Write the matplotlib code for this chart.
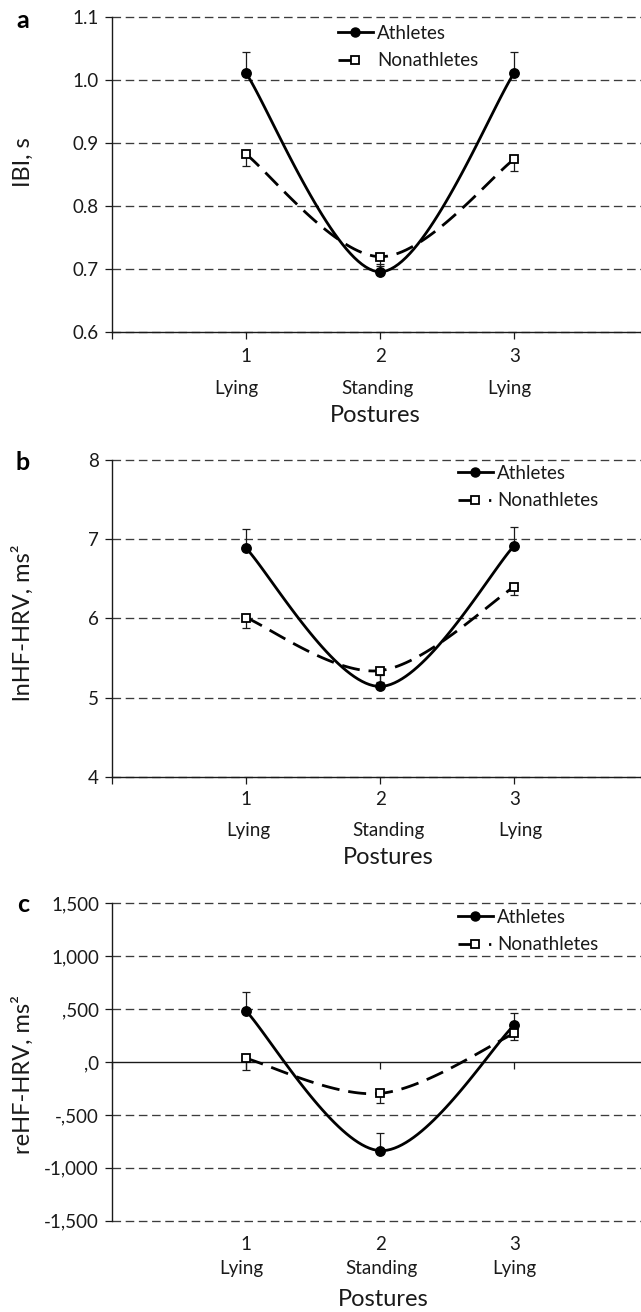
import numpy as np
import matplotlib
matplotlib.use("Agg")
import matplotlib.pyplot as plt
from matplotlib.lines import Line2D

plt.rcParams['font.family'] = ['Lato', 'DejaVu Sans']

# Dane
postures_x = [1, 2, 3]
posture_names = ['Lying', 'Standing', 'Lying']

ibi_ath = [1.012, 0.696, 1.012]
ibi_ath_err = [0.033, 0.012, 0.033]
ibi_non = [0.883, 0.720, 0.875]
ibi_non_err = [0.019, 0.015, 0.019]

lnhf_ath = [6.89, 5.14, 6.92]
lnhf_ath_err = [0.24, 0.15, 0.24]
lnhf_non = [6.01, 5.34, 6.40]
lnhf_non_err = [0.13, 0.14, 0.11]

rehf_ath = [485, -838, 350]
rehf_ath_err = [180, 170, 110]
rehf_non = [35, -297, 271]
rehf_non_err = [110, 95, 62]

W, H = 641, 1312
INK = '#1a1a1a'
GRID = '#3c3c3c'
FS_TICK = 13.5
FS_BIG = 17


def smooth(x, y, n=40):
    """Wygladzona linia jak w Excelu (Bezier / Catmull-Rom)."""
    pts = np.column_stack([x, y]).astype(float)
    P = np.vstack([pts[0], pts, pts[-1]])
    out = []
    t = np.linspace(0, 1, n)[:, None]
    for i in range(1, len(P) - 2):
        p0, p1, p2, p3 = P[i - 1], P[i], P[i + 1], P[i + 2]
        c1 = p1 + (p2 - p0) / 6
        c2 = p2 - (p3 - p1) / 6
        seg = (1 - t) ** 3 * p1 + 3 * (1 - t) ** 2 * t * c1 + 3 * (1 - t) * t ** 2 * c2 + t ** 3 * p2
        out.append(seg if i == 1 else seg[1:])
    c = np.vstack(out)
    return c[:, 0], c[:, 1]


def panel(top_px, bot_px, ath, ath_err, non, non_err, yticks, ylabels,
          ylabel, ylabel_y, letter, leg_x, leg_y, leg_dot, lab_dy, lab_dx, post_dx,
          zero_axis=False):
    left_px = 111.5
    unit = 134.3
    ax = fig.add_axes([left_px / W, 1 - bot_px / H, 4 * unit / W, (bot_px - top_px) / H])
    ax.set_xlim(0, 4)
    ax.set_ylim(yticks[0], yticks[-1])
    for s in ['top', 'right']:
        ax.spines[s].set_visible(False)
    ax.spines['left'].set_color(INK)
    ax.spines['bottom'].set_color(INK)
    ax.spines['left'].set_linewidth(1.0)
    ax.spines['bottom'].set_linewidth(1.0)

    ax.set_yticks(yticks)
    ax.set_yticklabels(ylabels, fontsize=FS_TICK, color=INK)
    ax.tick_params(axis='y', direction='out', length=5, width=0.9, color=INK, pad=4)
    for yv in yticks:
        if zero_axis and yv == 0:
            continue
        ax.axhline(yv, color=GRID, lw=0.95, dashes=(6.5, 3.5), zorder=1, clip_on=False)

    ax.set_xticks([0] + postures_x)
    ax.set_xticklabels([])
    ax.tick_params(axis='x', direction='out', length=5, width=0.9, color=INK)
    if zero_axis:
        ax.spines['bottom'].set_position(('data', 0))

    # krzywe
    xs, ys = smooth(postures_x, ath)
    ax.plot(xs, ys, color='black', lw=2.0, solid_capstyle='round', zorder=3)
    xs, ys = smooth(postures_x, non)
    ax.plot(xs, ys, color='black', lw=2.0, dashes=(6.5, 3.2), zorder=3)

    # slupki bledow
    z = [0] * len(postures_x)
    ax.errorbar(postures_x, ath, yerr=[z, ath_err], fmt='none', ecolor=INK,
                elinewidth=0.9, capsize=3, capthick=0.9, zorder=2.5)
    ax.errorbar(postures_x, non, yerr=[non_err, z], fmt='none', ecolor=INK,
                elinewidth=0.9, capsize=3, capthick=0.9, zorder=2.5)

    ax.plot(postures_x, ath, 'o', color='black', ms=6.8, zorder=5, linestyle='none')
    ax.plot(postures_x, non, 's', mfc='white', mec='black', mew=1.3, ms=6.2, zorder=5,
            linestyle='none')

    # podpisy osi X
    tr = ax.get_xaxis_transform()
    for xi, name, dx in zip(postures_x, posture_names, lab_dx):
        ax.annotate(str(xi), xy=(xi, 0), xycoords=tr, xytext=(0, -lab_dy[0]),
                    textcoords='offset pixels', ha='center', va='center',
                    fontsize=FS_TICK, color=INK)
        ax.annotate(name, xy=(xi, 0), xycoords=tr, xytext=(dx, -lab_dy[1]),
                    textcoords='offset pixels', ha='center', va='center',
                    fontsize=FS_TICK, color=INK)
    ax.annotate('Postures', xy=(2, 0), xycoords=tr, xytext=(post_dx, -lab_dy[2]),
                textcoords='offset pixels', ha='center', va='center',
                fontsize=FS_BIG, color=INK)

    fig.text(23 / W, 1 - ylabel_y / H, ylabel, rotation=90, ha='center', va='center',
             fontsize=FS_BIG, color=INK)
    fig.text(23 / W, 1 - letter[1] / H, letter[0], ha='center', va='center',
             fontsize=18, fontweight='bold', color='black')

    # legenda
    h_ath = Line2D([], [], color='black', lw=2.0, marker='o', ms=6.5)
    dsh = (6, 5, 0.8, 3) if leg_dot else (6, 20)
    h_non = Line2D([], [], color='black', lw=2.0, dashes=dsh, marker='s', ms=6,
                   mfc='white', mec='black', mew=1.3)
    ax.legend([h_ath, h_non], ['Athletes', 'Nonathletes'], loc='upper left',
              bbox_to_anchor=(leg_x / W, 1 - leg_y / H), bbox_transform=fig.transFigure,
              frameon=False, fontsize=FS_TICK, handlelength=1.85, handletextpad=0.25,
              borderpad=0, borderaxespad=0, labelspacing=0.55,
              labelcolor=INK)
    return ax


fig = plt.figure(figsize=(W / 100, H / 100), dpi=100)

panel(17.3, 332.3, ibi_ath, ibi_ath_err, ibi_non, ibi_non_err,
      [0.6, 0.7, 0.8, 0.9, 1.0, 1.1], ['0.6', '0.7', '0.8', '0.9', '1.0', '1.1'],
      'IBI, s', 162, ('a', 21), 338, 25, False, (24, 56, 83), (-9, -3, -5), -5)

panel(460.0, 776.7, lnhf_ath, lnhf_ath_err, lnhf_non, lnhf_non_err,
      [4, 5, 6, 7, 8], ['4', '5', '6', '7', '8'],
      'lnHF-HRV, ms²', 623, ('b', 463), 458, 465, True, (23, 54, 81), (3, 8, 6), 8)

panel(903.3, 1220.7, rehf_ath, rehf_ath_err, rehf_non, rehf_non_err,
      [-1500, -1000, -500, 0, 500, 1000, 1500],
      ['-1,500', '-1,000', '-,500', ',0', ',500', '1,000', '1,500'],
      'reHF-HRV, ms²', 1074, ('c', 905), 458, 909, True, (24, 48, 79), (-4, 1, 0), 3,
      zero_axis=True)

fig.savefig('out.png', dpi=100)
